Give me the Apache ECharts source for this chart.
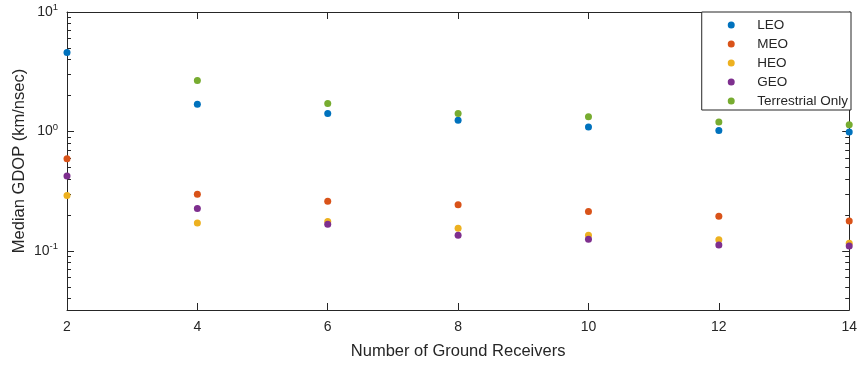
<!DOCTYPE html>
<html lang="en">
<head>
    <meta charset="UTF-8">
    <title>Median GDOP</title>
    <style>
        html, body { margin: 0; padding: 0; background: #fff; }
        #chart { width: 860px; height: 365px; }
    </style>
    <script src="https://cdn.jsdelivr.net/npm/echarts@6/dist/echarts.min.js"></script>
</head>
<body>
<div id="chart"></div>
<script>
    // data
    var receivers = [2, 4, 6, 8, 10, 12, 14];
    var leo = [4.59, 1.69, 1.41, 1.24, 1.09, 1.02, 0.99];
    var meo = [0.592, 0.298, 0.260, 0.243, 0.214, 0.195, 0.178];
    var heo = [0.291, 0.171, 0.176, 0.155, 0.135, 0.124, 0.116];
    var geo = [0.424, 0.226, 0.167, 0.135, 0.125, 0.112, 0.110];
    var terrestrial = [null, 2.67, 1.71, 1.41, 1.33, 1.20, 1.14];

    var seriesNames = ["LEO", "MEO", "HEO", "GEO", "Terrestrial Only"];
    var seriesColors = ["#0072BD", "#D95319", "#EDB120", "#7E2F8E", "#77AC30"];
    var seriesData = [leo, meo, heo, geo, terrestrial];

    var yMin = 0.032, yMax = 10;
    var majorExp = [-1, 0, 1];
    var minorMult = [2, 3, 4, 5, 6, 7, 8, 9];

    // tick positions in log10 space for the overlay axes
    var lo = Math.log10(yMin), hi = Math.log10(yMax);
    var minorTicks = [];
    for (var e = -2; e < 1; e++) {
        for (var k = 0; k < minorMult.length; k++) {
            var t = Math.log10(minorMult[k]) + e;
            if (t > lo && t < hi) minorTicks.push(t);
        }
    }

    var axisColor = "#262626";
    var font = "Liberation Sans, Arial, Helvetica, sans-serif";

    function pairs(arr) {
        var out = [];
        for (var i = 0; i < receivers.length; i++) {
            if (arr[i] != null) out.push([receivers[i], arr[i]]);
        }
        return out;
    }

    function tickAxis(pos, ticks, len, showLine, labels) {
        return {
            type: "value",
            position: pos,
            min: lo,
            max: hi,
            axisLine: { show: showLine, onZero: false, lineStyle: { color: axisColor, width: 1 } },
            axisTick: { show: true, inside: true, length: len, customValues: ticks,
                lineStyle: { color: axisColor, width: 1 } },
            axisLabel: labels ? {
                show: true,
                customValues: majorExp,
                margin: 9,
                formatter: function (v) {
                    return "{b|10}{s|" + Math.round(v) + "}";
                },
                rich: {
                    b: { fontSize: 14, color: axisColor, fontFamily: font },
                    s: { fontSize: 9.5, color: axisColor, fontFamily: font, padding: [0, 0, 9, 0] }
                }
            } : { show: false },
            splitLine: { show: false }
        };
    }

    var my_chart = echarts.init(document.getElementById("chart"));

    var series = [];
    for (var i = 0; i < seriesNames.length; i++) {
        series.push({
            name: seriesNames[i],
            type: "scatter",
            xAxisIndex: 0,
            yAxisIndex: 0,
            symbol: "circle",
            symbolSize: 7,
            itemStyle: { color: seriesColors[i], opacity: 1 },
            emphasis: { disabled: true },
            data: pairs(seriesData[i])
        });
    }

    var option = {
        animation: false,
        textStyle: { fontFamily: font },
        grid: { left: 67, right: 9, top: 12, bottom: 54, containLabel: false },
        legend: {
            orient: "vertical",
            right: 9,
            top: 12,
            padding: [6, 3, 2, 26],
            itemGap: 5,
            itemWidth: 42,
            itemHeight: 7,
            icon: "circle",
            backgroundColor: "#fff",
            borderColor: axisColor,
            borderWidth: 1,
            borderRadius: 0,
            z: 10,
            textStyle: { fontSize: 13.5, color: axisColor, fontFamily: font },
            data: seriesNames
        },
        xAxis: [{
            type: "value",
            position: "bottom",
            min: 2,
            max: 14,
            interval: 2,
            name: "Number of Ground Receivers",
            nameLocation: "middle",
            nameGap: 33,
            nameTextStyle: { fontSize: 16.5, color: axisColor, fontFamily: font },
            axisLine: { onZero: false, lineStyle: { color: axisColor, width: 1 } },
            axisTick: { inside: true, length: 7, lineStyle: { color: axisColor } },
            axisLabel: { fontSize: 14, color: axisColor, margin: 10, fontFamily: font },
            splitLine: { show: false }
        }, {
            type: "value",
            position: "top",
            min: 2,
            max: 14,
            interval: 2,
            axisLine: { show: true, onZero: false, lineStyle: { color: axisColor, width: 1 } },
            axisTick: { inside: true, length: 7, lineStyle: { color: axisColor } },
            axisLabel: { show: false },
            splitLine: { show: false }
        }],
        yAxis: [{
            type: "log",
            min: yMin,
            max: yMax,
            name: "Median GDOP (km/nsec)",
            nameLocation: "middle",
            nameGap: 39,
            nameTextStyle: { fontSize: 16.5, color: axisColor, fontFamily: font },
            axisLine: { show: false, onZero: false },
            axisTick: { show: false },
            axisLabel: { show: false },
            splitLine: { show: false }
        },
            tickAxis("left", majorExp, 7, true, true),
            tickAxis("left", minorTicks, 4, false, false),
            tickAxis("right", majorExp, 7, true, false),
            tickAxis("right", minorTicks, 4, false, false)
        ],
        series: series
    };

    my_chart.setOption(option);
</script>
</body>
</html>
